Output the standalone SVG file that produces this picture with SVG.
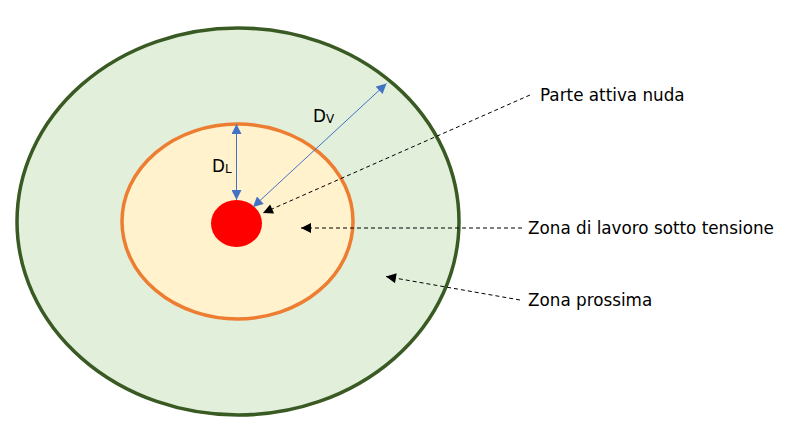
<svg xmlns="http://www.w3.org/2000/svg" width="787" height="428" viewBox="0 0 787 428">
<style>
.lbl{font-family:"DejaVu Sans",Verdana,sans-serif;font-size:16.8px;fill:#000}
.sub{font-size:12px}
.lead{stroke:#000;stroke-width:1;stroke-dasharray:4 3;fill:none}
.dim{stroke:#4472C4;stroke-width:1;fill:none}
</style>
<defs>
<marker id="ah" viewBox="0 0 10 10" refX="10" refY="5" markerWidth="11" markerHeight="10" markerUnits="userSpaceOnUse" orient="auto"><path d="M0,0 L10,5 L0,10 z" fill="#000"/></marker>
<marker id="bh" viewBox="0 0 10 10" refX="10" refY="5" markerWidth="11" markerHeight="10" markerUnits="userSpaceOnUse" orient="auto-start-reverse"><path d="M0,0 L10,5 L0,10 z" fill="#4472C4"/></marker>
</defs>
<rect width="787" height="428" fill="#fff"/>
<g id="zona-prossima"><ellipse cx="238" cy="221.5" rx="221" ry="193.5" fill="#E2EFDA" stroke="#3A5A24" stroke-width="3.5"/></g>
<g id="zona-lavoro"><ellipse cx="237.5" cy="221.5" rx="115.5" ry="97.5" fill="#FFF2CC" stroke="#ED7D31" stroke-width="3.5"/></g>
<g id="parte-attiva"><ellipse cx="236.5" cy="223.5" rx="25.5" ry="23.5" fill="#FF0000"/></g>
<g id="connectors">
<line class="dim" x1="236.5" y1="200" x2="236.5" y2="124" marker-start="url(#bh)" marker-end="url(#bh)"/>
<line class="dim" x1="253" y1="207" x2="386.5" y2="83.5" marker-start="url(#bh)" marker-end="url(#bh)"/>
<line class="lead" x1="530" y1="95" x2="263" y2="213" marker-end="url(#ah)"/>
<line class="lead" x1="522" y1="228" x2="301" y2="228" marker-end="url(#ah)"/>
<line class="lead" x1="520" y1="300" x2="386" y2="276.5" marker-end="url(#ah)"/>
</g>
<g id="label-dl"><text class="lbl" x="212" y="172">D<tspan class="sub" dy="1">L</tspan></text></g>
<g id="label-dv"><text class="lbl" x="313" y="122">D<tspan class="sub" dy="1">V</tspan></text></g>
<g id="label-parte"><text class="lbl" x="540" y="101">Parte attiva nuda</text></g>
<g id="label-lavoro"><text class="lbl" x="528" y="234">Zona di lavoro sotto tensione</text></g>
<g id="label-prossima"><text class="lbl" x="528" y="306">Zona prossima</text></g>
</svg>
